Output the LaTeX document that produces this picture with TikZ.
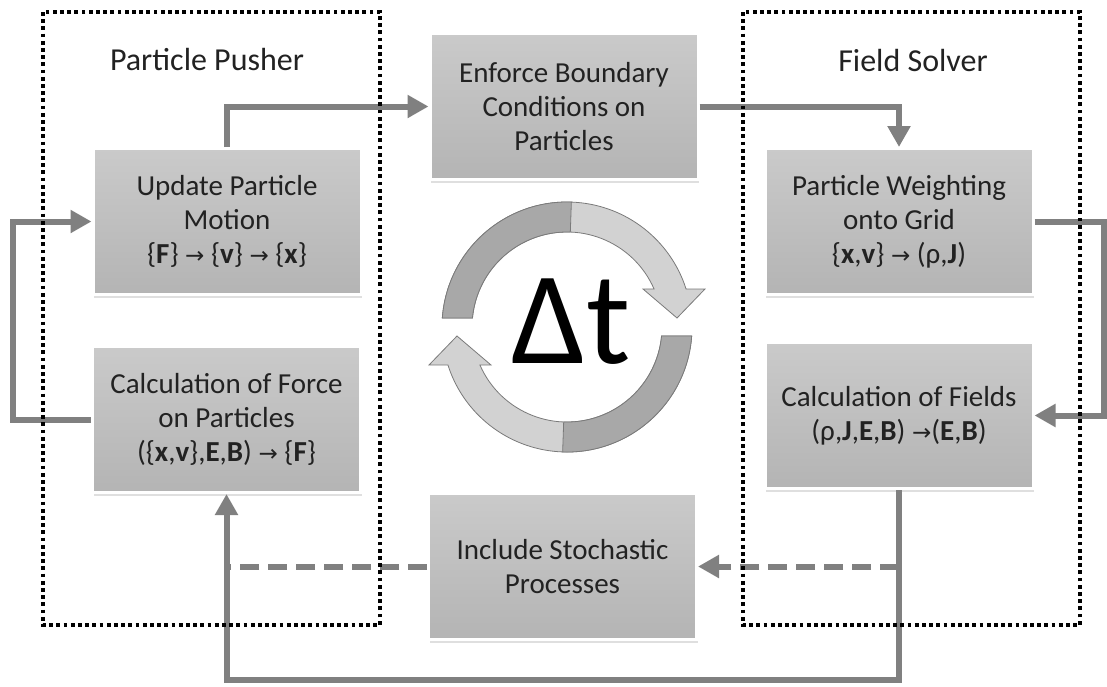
\documentclass[tikz,border=0pt]{standalone}
\usepackage{fontspec}
\setmainfont{Carlito}
\newfontfamily\symfont{DejaVu Sans}
\usetikzlibrary{arrows.meta,shadows}
\definecolor{conn}{HTML}{808080}
\definecolor{boxtop}{HTML}{CACACA}
\definecolor{boxbot}{HTML}{B4B4B4}
\definecolor{ringdark}{HTML}{A8A8A8}
\definecolor{ringlight}{HTML}{D2D2D2}
\definecolor{ringline}{HTML}{7A7A7A}
\definecolor{txt}{HTML}{222222}
\newcommand{\myarr}{{\symfont\fontsize{23}{23}\selectfont →}}
\begin{document}
\begin{tikzpicture}[x=1pt,y=1pt,
  font=\fontsize{29}{34}\selectfont,
  procbox/.style={draw=white, line width=3pt, top color=boxtop, bottom color=boxbot,
    minimum width=268pt, minimum height=146pt, align=center, text=txt,
    drop shadow={shadow xshift=1pt, shadow yshift=-3pt, opacity=0.25}},
  flow/.style={draw=conn, line width=6pt, -{Triangle[length=21pt,width=22pt]}},
  flowline/.style={draw=conn, line width=6pt},
  dashflow/.style={flow, dash pattern=on 19pt off 9pt},
  dashline/.style={flowline, dash pattern=on 19pt off 9pt},
  group/.style={draw=black, line width=3.8pt, dash pattern=on 3.8pt off 3.4pt},
  ringpart/.style={draw=ringline, line width=0.8pt},
  title/.style={text=txt, font=\fontsize{32}{36}\selectfont}]
\useasboundingbox (0,0) rectangle (1107,-686);

% process boxes
\node[procbox] (up) at (227,-221.5) {Update Particle\\Motion\\\{\textbf{F}\} \myarr\ \{\textbf{v}\} \myarr\ \{\textbf{x}\}};
\node[procbox] (force) at (226.5,-419.5) {Calculation of Force\\on Particles\\(\{\textbf{x},\textbf{v}\},\textbf{E},\textbf{B}) \myarr\ \{\textbf{F}\}};
\node[procbox] (enf) at (564,-106.5) {Enforce Boundary\\Conditions on\\Particles};
\node[procbox] (wgt) at (899,-221.5) {Particle Weighting\\onto Grid\\\{\textbf{x},\textbf{v}\} \myarr\ (ρ,\textbf{J})};
\node[procbox] (fld) at (899,-415.5) {Calculation of Fields\\(ρ,\textbf{J},\textbf{E},\textbf{B}) \myarr(\textbf{E},\textbf{B})};
\node[procbox] (sto) at (562.5,-566.5) {Include Stochastic\\Processes};

% helper coordinates
\coordinate (rx) at (1104,0);
\coordinate (lx) at (13,0);
\coordinate (by) at (0,-680);

% connectors
\draw[flow] (up.north) |- (enf.west);
\draw[flow] (enf.east) -| (wgt.north);
\draw[flow] (wgt.east) -- (wgt.east -| rx) |- (fld.east);
\draw[flow] (fld.south) -- (fld.south |- by) -| (force.south);
\draw[flow] (force.west) -- (force.west -| lx) |- (up.west);
\draw[dashflow] (fld.south |- sto.east) -- (sto.east);
\draw[dashline] (sto.west) -- (sto.west -| force.south);

% titles
\node[title] (pp) at (207,-60) {Particle Pusher};
\node[title] (fs) at (913,-60) {Field Solver};

% cycle arrows
\begin{scope}[shift={(567,-327)}]
  \filldraw[ringpart, fill=ringlight]
    (175.9:125) arc[start angle=175.9, end angle=17.7, radius=125]
    -- (138,38) -- (110,9) -- (76,38)
    -- (23.6:95) arc[start angle=23.6, end angle=174.6, radius=95] -- cycle;
  \filldraw[ringpart, fill=ringdark]
    (175.9:125) arc[start angle=175.9, end angle=88, radius=125]
    -- (88:95) arc[start angle=88, end angle=174.6, radius=95] -- cycle;
\end{scope}
\begin{scope}[shift={(567,-327)}, rotate=180]
  \filldraw[ringpart, fill=ringlight]
    (175.9:125) arc[start angle=175.9, end angle=17.7, radius=125]
    -- (138,38) -- (110,9) -- (76,38)
    -- (23.6:95) arc[start angle=23.6, end angle=174.6, radius=95] -- cycle;
  \filldraw[ringpart, fill=ringdark]
    (175.9:125) arc[start angle=175.9, end angle=88, radius=125]
    -- (88:95) arc[start angle=88, end angle=174.6, radius=95] -- cycle;
\end{scope}
\node[font=\fontsize{132}{132}\selectfont] (dt) at (571,-322) {Δt};

% group frames
\draw[group] (43,-12) rectangle (380,-625);
\draw[group] (743,-12) rectangle (1080,-625);
\end{tikzpicture}
\end{document}
